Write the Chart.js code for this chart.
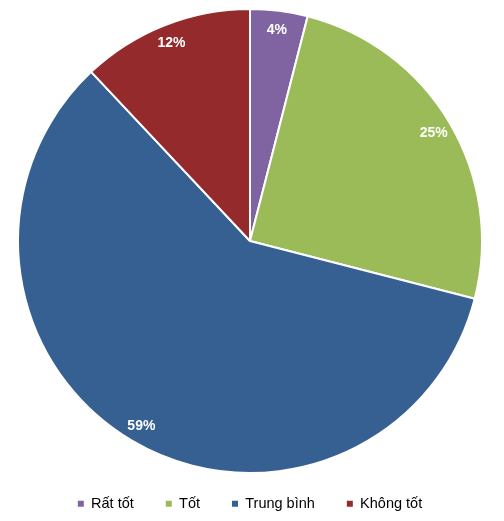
<!doctype html>
<html>
	<head>
		<meta charset="utf-8">
		<title>Pie</title>
		<script src="https://cdn.jsdelivr.net/npm/chart.js@4.4.0/dist/chart.umd.min.js"></script>
		<style>
			html, body { margin: 0; padding: 0; background: #fff; }
			#wrap { width: 504px; height: 521px; }
		</style>
	</head>
	<body>
		<div id="wrap"><canvas id="chart" width="504" height="521"></canvas></div>
		<script>
			const labels = ['Rất tốt', 'Tốt', 'Trung bình', 'Không tốt'];
			const values = [4, 25, 59, 12];
			const colors = ['#8064A2', '#9BBB59', '#376092', '#952A2C'];

			// white bold percent labels inside each slice
			const pctLabels = {
				id: 'pctLabels',
				afterDatasetsDraw(chart) {
					const ctx = chart.ctx;
					const meta = chart.getDatasetMeta(0);
					ctx.save();
					ctx.font = 'bold 14px "Liberation Sans", Arial, sans-serif';
					ctx.fillStyle = '#fff';
					ctx.textAlign = 'center';
					ctx.textBaseline = 'middle';
					meta.data.forEach((arc, i) => {
						const p = arc.getProps(['x', 'y', 'startAngle', 'endAngle', 'outerRadius'], true);
						const a = (p.startAngle + p.endAngle) / 2;
						const r = p.outerRadius * 0.92;
						ctx.fillText(values[i] + '%', p.x + Math.cos(a) * r, p.y + Math.sin(a) * r + 1);
					});
					ctx.restore();
				}
			};

			const ctx = document.getElementById('chart').getContext('2d');
			const myChart = new Chart(ctx, {
				type: 'pie',
				data: {
					labels: labels,
					datasets: [{
						data: values,
						backgroundColor: colors,
						borderColor: '#fff',
						borderWidth: 2
					}]
				},
				options: {
					responsive: false,
					animation: false,
					radius: 232,
					layout: { padding: { top: 17.5, left: 18, right: 22, bottom: 0 } },
					plugins: {
						tooltip: { enabled: false },
						legend: {
							position: 'bottom',
							labels: {
								boxWidth: 6,
								boxHeight: 6,
								padding: 32,
								color: '#000',
								font: { size: 14.5, family: '"Liberation Sans", Arial, sans-serif' },
								generateLabels(chart) {
									const items = Chart.overrides.pie.plugins.legend.labels.generateLabels(chart);
									items.forEach(it => { it.lineWidth = 0; });
									return items;
								}
							}
						}
					}
				},
				plugins: [pctLabels]
			});
		</script>
	</body>
</html>
